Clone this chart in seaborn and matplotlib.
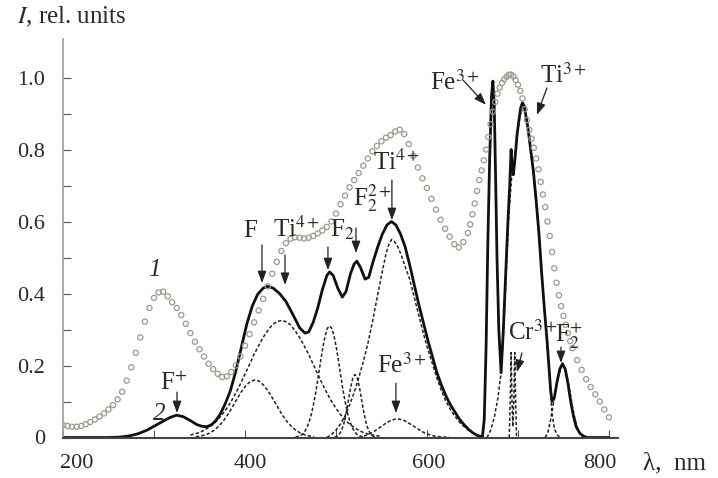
import matplotlib
matplotlib.use("Agg")
import matplotlib.pyplot as plt
import matplotlib.transforms as mtransforms
import seaborn as sns

# ---- curve 1: measured spectrum (open circles) ----
lam_1 = [200, 205, 210, 215, 220, 225, 230, 235, 240, 245, 250, 255, 260, 265, 270, 275,
         280, 285, 290, 295, 300, 305, 310, 315, 320, 325, 330, 335, 340, 345, 350, 355,
         360, 365, 370, 375, 380, 385, 390, 395, 400, 405, 410, 415, 420, 425, 430, 435,
         440, 445, 450, 455, 460, 465, 470, 475, 480, 485, 490, 495, 500, 505, 510, 515,
         520, 525, 530, 535, 540, 545, 550, 555, 560, 565, 570, 575, 580, 585, 590, 595,
         600, 605, 610, 615, 620, 625, 630, 635, 640,
         645, 647.5, 650, 652.5, 655, 657.5, 660, 662.5, 665, 667.5, 670, 672.5, 675, 677.5,
         680, 682.5, 685, 687.5, 690, 692.5, 695, 697.5, 700, 702.5, 705, 707.5, 710, 712.5,
         715, 717.5, 720, 722.5, 725, 727.5, 730, 732.5, 735, 737.5, 740, 742.5, 745, 747.5,
         750, 752.5, 755, 757.5, 760,
         765, 770, 775, 780, 785, 790, 795, 800]
int_1 = [.035, .032, .030, .030, .032, .037, .043, .050, .058, .067, .078, .090, .106, .127, .158, .195,
         .235, .278, .322, .360, .388, .403, .405, .392, .376, .360, .340, .316, .290, .266, .245, .225,
         .205, .190, .177, .168, .170, .182, .200, .225, .255, .287, .320, .353, .385, .420, .455, .488,
         .518, .540, .552, .556, .555, .553, .555, .560, .567, .575, .585, .600, .622, .648, .672, .695,
         .715, .735, .755, .775, .795, .810, .823, .833, .840, .850, .855, .843, .815, .782, .750, .720,
         .693, .663, .633, .605, .580, .558, .537, .528, .543,
         .568, .592, .620, .650, .685, .715, .742, .770, .800, .835, .870, .905, .932, .955,
         .972, .985, .995, 1.002, 1.008, 1.008, 1.003, .993, .980, .963, .942, .912, .882, .855,
         .830, .805, .775, .745, .710, .675, .640, .600, .560, .515, .470, .430, .395, .365,
         .338, .313, .290, .268, .248,
         .215, .188, .162, .140, .120, .100, .078, .056]

# ---- curve 2: fitted sum (solid) ----
lam_2 = [200, 250, 262, 272, 282, 292, 302, 312, 318, 325, 332, 340, 347, 353, 358, 363, 368, 373,
         378, 384, 390, 396, 402, 408, 414, 420, 425, 431, 438, 445, 453, 460, 466, 470, 475, 480,
         485, 490, 493, 497, 502, 507, 511, 516, 520, 523, 527, 532, 536, 541, 546, 551, 556, 561,
         566, 571, 576, 581, 586, 591, 596, 601, 606, 611, 616, 621, 626, 631, 636, 641, 646, 651,
         656, 661, 663, 665, 667, 669, 671, 672.5, 674, 675.5, 677, 679, 681.5, 684, 687, 689, 691,
         692.5, 693.5, 695, 697, 699, 701, 703, 705, 707, 709, 711, 714, 717, 720, 723, 726, 729,
         732, 734, 736, 737.5, 740, 743, 746, 749, 752, 755, 758, 761, 764, 768, 772, 776, 800]
int_2 = [0, 0, .001, .004, .010, .020, .034, .048, .056, .062, .058, .047, .036, .031, .030, .035, .047, .066,
         .092, .13, .185, .25, .315, .365, .398, .415, .42, .415, .40, .378, .34, .305, .29, .293, .32, .36,
         .41, .45, .46, .45, .415, .39, .405, .455, .482, .49, .472, .44, .445, .49, .53, .565, .59, .60,
         .59, .565, .53, .48, .425, .37, .32, .27, .225, .18, .145, .115, .09, .07, .05, .035, .022, .012,
         .005, .002, .05, .25, .55, .78, .95, .99, .92, .72, .50, .30, .18, .30, .48, .60, .70,
         .80, .76, .73, .78, .84, .88, .915, .93, .92, .89, .86, .80, .74, .66, .57, .46, .36,
         .27, .20, .13, .10, .11, .155, .19, .205, .19, .15, .10, .06, .03, .012, .004, 0, 0]

# ---- decomposition bands (dashed) ----
lam_F = [346, 351, 356, 361, 366, 371, 376, 381, 386, 391, 396, 401, 406, 411, 416, 421, 426, 431,
         436, 441, 446, 451, 456, 461, 466, 471, 476]
int_F = [.002, .004, .007, .012, .020, .031, .045, .063, .084, .106, .127, .144, .156, .160, .156, .144,
         .127, .106, .084, .063, .045, .031, .020, .012, .007, .004, .002]

lam_Ti4 = [340, 345, 350, 355, 360, 365, 370, 375, 380, 385, 390, 395, 400, 405, 410, 415, 420, 425,
           430, 435, 440, 445, 450, 455, 460, 465, 470, 475, 480, 485, 490, 495, 500, 505, 510, 515,
           520, 525, 530, 535, 540, 545, 550]
int_Ti4 = [.007, .010, .014, .020, .028, .037, .049, .064, .081, .101, .124, .149, .176, .203, .231, .255,
           .278, .297, .313, .322, .325, .322, .313, .297, .278, .255, .231, .203, .176, .149, .124, .101,
           .081, .064, .049, .037, .028, .020, .014, .010, .007, .005, .003]

lam_F2 = [455.5, 458, 460.5, 463, 465.5, 468, 470.5, 473, 475.5, 478, 480.5, 483, 485.5, 488, 490.5, 493,
          495.5, 498, 500.5, 503, 505.5, 508, 510.5, 513, 515.5, 518, 520.5, 523, 525.5, 528, 530.5]
int_F2 = [.001, .003, .005, .009, .016, .027, .043, .065, .094, .128, .168, .210, .249, .281, .303, .310,
          .303, .281, .249, .210, .168, .128, .094, .065, .043, .027, .016, .009, .005, .003, .001]

lam_F2b = [498.5, 501, 503.5, 506, 508.5, 511, 513.5, 516, 518.5, 521, 523.5, 526, 528.5, 531, 533.5,
           536, 538.5, 541, 543.5]
int_F2b = [.001, .003, .008, .019, .037, .065, .100, .137, .165, .175, .165, .137, .100, .065, .037,
           .019, .008, .003, .001]

lam_F22 = [490, 495, 500, 505, 510, 515, 520, 525, 530, 535, 540, 545, 550, 555, 558, 561, 564, 568,
           572, 576, 581, 586, 591, 596, 601, 606, 611, 616, 621, 626, 631, 636, 641, 646, 651, 656, 661]
int_F22 = [0, .008, .020, .038, .060, .090, .125, .165, .210, .260, .320, .385, .450, .510, .535, .550,
           .545, .530, .505, .475, .440, .390, .340, .290, .245, .205, .165, .130, .100, .077, .058, .042,
           .030, .020, .011, .005, 0]

lam_Fe = [525, 530, 535, 540, 545, 550, 555, 560, 565, 570, 575, 580, 585, 590, 595, 600, 605, 610,
          615, 620, 625]
int_Fe = [0, .003, .008, .014, .022, .031, .040, .047, .051, .051, .047, .040, .032, .024, .016, .010,
          .006, .003, .002, .001, 0]

lam_Ti3 = [666, 670, 674, 678, 681, 684, 687, 690, 693, 696, 699, 702, 705, 708, 711, 714, 717, 720,
           723, 726, 729, 732, 735, 737.5, 740, 743, 746]
int_Ti3 = [0, .02, .055, .11, .17, .28, .45, .62, .72, .77, .83, .89, .92, .91, .86, .80, .73, .65,
           .56, .46, .36, .26, .16, .067, .025, .008, 0]

lam_Cr = [690.5, 691.5, 692.5, 693.5, 694.5, 695.5, 696.5, 697.5, 698.5]
int_Cr = [0, .10, .236, .10, .03, .10, .236, .10, 0]

lam_F2p = [730, 733, 736, 739, 742, 745, 748, 749.5, 751, 754, 757, 760, 763, 766, 769, 772]
int_F2p = [0, .015, .05, .095, .14, .175, .197, .20, .197, .17, .13, .085, .048, .022, .008, 0]

bands = [(lam_F, int_F), (lam_Ti4, int_Ti4), (lam_F2, int_F2), (lam_F2b, int_F2b),
         (lam_F22, int_F22), (lam_Fe, int_Fe), (lam_Ti3, int_Ti3), (lam_Cr, int_Cr),
         (lam_F2p, int_F2p)]

y_ticks = [0, 0.2, 0.4, 0.6, 0.8, 1.0]
y_ticklabels = ["0", "0.2", "0.4", "0.6", "0.8", "1.0"]
x_ticks = [200, 400, 600, 800]

sns.set_theme(style="ticks")
plt.rcParams['font.family'] = ['Liberation Serif', 'DejaVu Serif']
plt.rcParams['mathtext.fontset'] = 'stix'

txt = '#2a2a25'
fig = plt.figure(figsize=(7.18, 4.78), dpi=100)
ax = fig.add_axes([63 / 718, 1 - 437.5 / 478, (618 - 63) / 718, (437.5 - 39) / 478])

for lam, val in bands:
    sns.lineplot(x=lam, y=val, ax=ax, color='#222222', lw=1.1, linestyle=(0, (2.2, 1.4)),
                 sort=False, estimator=None)

sns.lineplot(x=lam_2, y=int_2, ax=ax, color='#111111', lw=2.0, sort=False, estimator=None)

sns.scatterplot(x=lam_1, y=int_1, ax=ax, marker='o', s=14, facecolor='none',
                edgecolor='#9a9a8c', linewidth=0.9, zorder=3)

ax.set_xlim(200, 810)
ax.set_ylim(0, 1.107)
ax.set_xticks(x_ticks)
ax.set_xticks([300, 500, 700], minor=True)
ax.set_yticks(y_ticks)
ax.set_yticklabels(y_ticklabels)
ax.set_yticks([0.1, 0.3, 0.5, 0.7, 0.9], minor=True)
ax.tick_params(which='both', direction='in', length=6, width=0.8, color='#555555')
ax.tick_params(axis='y', labelsize=16, pad=13, labelcolor=txt)
ax.tick_params(axis='x', labelsize=16, pad=12, labelcolor=txt)
ax.set_xlabel('')
ax.set_ylabel('')
sns.despine(ax=ax)
ax.spines['left'].set_color('#a0a094')
ax.spines['left'].set_linewidth(1.2)
ax.spines['bottom'].set_color('#444444')
ax.spines['bottom'].set_linewidth(1.5)

# the scanned original has its tick labels slightly off their ticks
for lbl, dx in zip(ax.get_xticklabels(), [14, 5, 2, -9]):
    lbl.set_transform(lbl.get_transform()
                      + mtransforms.ScaledTranslation(dx / 100, 0, fig.dpi_scale_trans))

fig.text(17 / 718, 1 - 17 / 478, '$I$, rel. units', fontsize=18, color=txt, va='center', ha='left')
fig.text(643 / 718, 1 - 463 / 478, 'λ,  nm', fontsize=18, color=txt, va='center', ha='left')

lab = dict(fontsize=18, color=txt, ha='left', va='baseline')
ax.text(293, 0.449, '1', fontstyle='italic', **lab)
ax.text(299, 0.049, '2', fontstyle='italic', **lab)
ax.text(306.5, 0.132, 'F$^{+}$', **lab)
ax.text(398, 0.557, 'F', **lab)
ax.text(431, 0.557, 'Ti$^{4+}$', **lab)
ax.text(493.5, 0.557, 'F$_{2}$', **lab)
ax.text(518.5, 0.646, 'F$_{2}^{2+}$', **lab)
ax.text(540.5, 0.743, 'Ti$^{4+}$', **lab)
ax.text(545, 0.179, 'Fe$^{3+}$', **lab)
ax.text(603, 0.965, 'Fe$^{3+}$', **lab)
ax.text(724, 0.985, 'Ti$^{3+}$', **lab)
ax.text(689, 0.271, 'Cr$^{3+}$', **lab)
ax.text(740.5, 0.265, 'F$_{2}^{+}$', **lab)

arrow = dict(arrowstyle='-|>,head_length=0.6,head_width=0.22', color='#222222', lw=0.9,
             shrinkA=0, shrinkB=0)
for tail, head in [((325.3, 0.126), (325.3, 0.068)),
                   ((418.7, 0.535), (418.7, 0.429)),
                   ((444.0, 0.507), (444.0, 0.424)),
                   ((491.2, 0.529), (491.2, 0.465)),
                   ((522.0, 0.582), (522.0, 0.5125)),
                   ((561.5, 0.715), (561.5, 0.604)),
                   ((565.9, 0.151), (565.9, 0.068)),
                   ((639.6, 0.993), (664.8, 0.924)),
                   ((731.9, 0.971), (720.9, 0.896)),
                   ((704.4, 0.235), (698.9, 0.182)),
                   ((747.3, 0.251), (747.3, 0.207))]:
    ax.annotate('', xy=head, xytext=tail, arrowprops=arrow)

fig.savefig('out.png', dpi=100, facecolor='white')
